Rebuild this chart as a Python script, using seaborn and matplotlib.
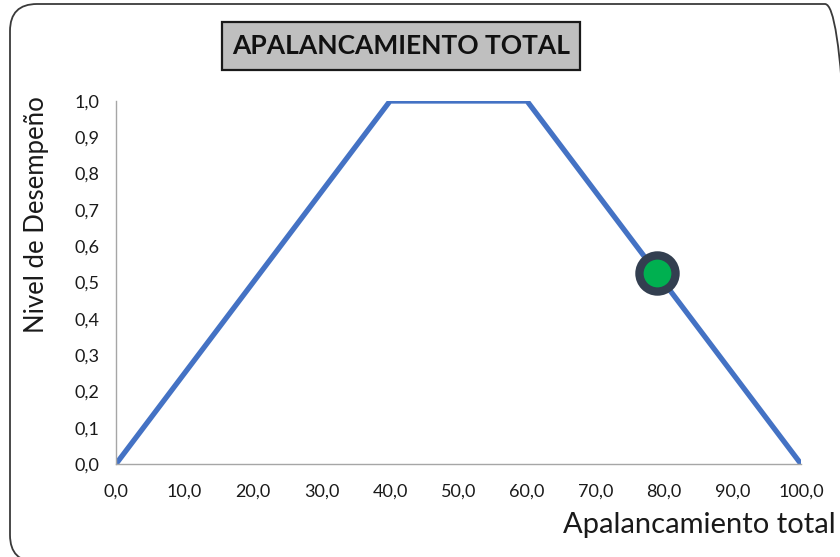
import matplotlib
matplotlib.use("Agg")
import matplotlib.pyplot as plt
from matplotlib.patches import FancyBboxPatch, Rectangle
from matplotlib.transforms import IdentityTransform
from matplotlib.ticker import FixedLocator, FuncFormatter
import seaborn as sns
import pandas as pd

# Performance curve for total leverage
leverage = [0.0, 40.0, 60.0, 100.0]
performance = [0.0, 1.0, 1.0, 0.0]

# Current position on the curve
current_leverage = [79.0]
current_performance = [0.525]

x_ticks = [0, 10, 20, 30, 40, 50, 60, 70, 80, 90, 100]
y_ticks = [0.0, 0.1, 0.2, 0.3, 0.4, 0.5, 0.6, 0.7, 0.8, 0.9, 1.0]

W, H = 840, 557

sns.set_theme(style="white")
plt.rcParams["font.family"] = ["Lato", "DejaVu Sans"]

fig = plt.figure(figsize=(W / 100, H / 100), dpi=100)
ax = fig.add_axes([116 / W, 1 - 464 / H, 685 / W, 363 / H])

curve = pd.DataFrame({"x": leverage, "y": performance})
sns.lineplot(data=curve, x="x", y="y", ax=ax, color="#4472C4",
             linewidth=3.8, solid_capstyle="round", solid_joinstyle="round")

ax.plot(current_leverage, current_performance, "o", markersize=26,
        markerfacecolor="#00B050", markeredgecolor="#333F50",
        markeredgewidth=6, zorder=5)

ax.set_xlim(0, 100)
ax.set_ylim(0, 1)
ax.xaxis.set_major_locator(FixedLocator(x_ticks))
ax.yaxis.set_major_locator(FixedLocator(y_ticks))
fmt = FuncFormatter(lambda v, p: f"{v:.1f}".replace(".", ","))
ax.xaxis.set_major_formatter(fmt)
ax.yaxis.set_major_formatter(fmt)
ax.tick_params(axis="both", length=0, labelsize=13, colors="#1a1a1a")
ax.tick_params(axis="x", pad=14)
ax.tick_params(axis="y", pad=12)

for side in ("top", "right"):
    ax.spines[side].set_visible(False)
for side in ("left", "bottom"):
    ax.spines[side].set_color("#a6a6a6")
    ax.spines[side].set_linewidth(1.0)
ax.set_xlabel("")
ax.set_ylabel("")

fig.text(37 / W, 1 - 215 / H, "Nivel de Desempeño", rotation=90,
         ha="center", va="center", fontsize=18.5, color="#1a1a1a")
fig.text(836 / W, 1 - 533 / H, "Apalancamiento total",
         ha="right", va="baseline", fontsize=21, color="#1a1a1a")

# Title box
px = IdentityTransform()
fig.patches.append(Rectangle((222, H - 70), 358, 48, transform=px,
                             facecolor="#bfbfbf", edgecolor="#1a1a1a",
                             linewidth=1.6))
fig.text(401 / W, 1 - 46 / H, "APALANCAMIENTO TOTAL",
         ha="center", va="center", fontsize=19, fontweight="bold",
         color="#111111", zorder=3)

# Rounded outer frame
fig.patches.append(FancyBboxPatch((10, H - 562), 842, 558,
                                  boxstyle="round,pad=0,rounding_size=27",
                                  transform=px, fill=False,
                                  edgecolor="#3a3a3a", linewidth=1.3))

fig.savefig("out.png", dpi=100)
